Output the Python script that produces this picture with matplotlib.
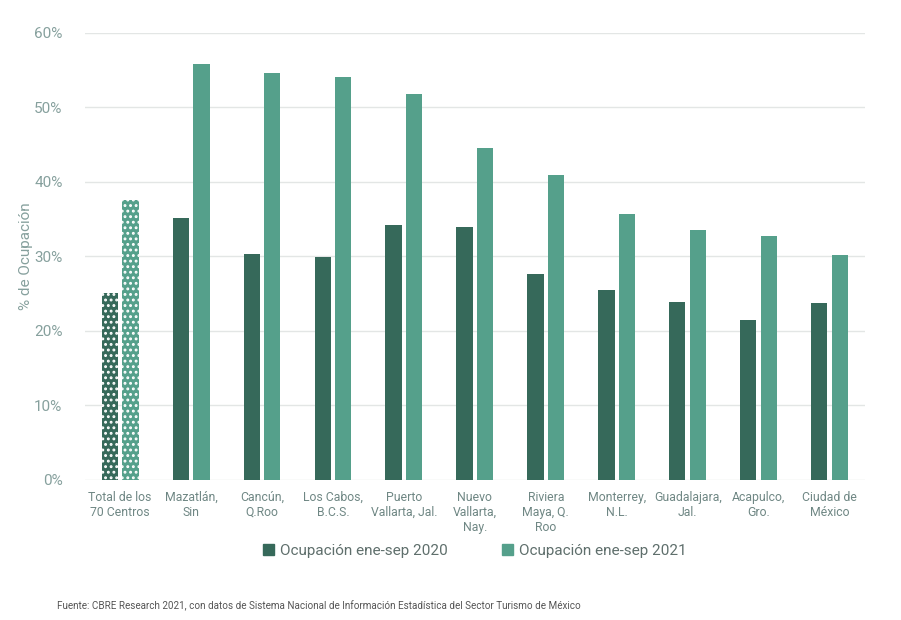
import matplotlib.pyplot as plt
import numpy as np
from matplotlib.ticker import PercentFormatter

plt.rcParams['font.family'] = ['Roboto', 'DejaVu Sans']
plt.rcParams['hatch.linewidth'] = 1.3

categorias = ['Total de los\n70 Centros', 'Mazatlán,\nSin', 'Cancún,\nQ.Roo',
              'Los Cabos,\nB.C.S.', 'Puerto\nVallarta, Jal.', 'Nuevo\nVallarta,\nNay.',
              'Riviera\nMaya, Q.\nRoo', 'Monterrey,\nN.L.', 'Guadalajara,\nJal.',
              'Acapulco,\nGro.', 'Ciudad de\nMéxico']
ocup_2020 = [25.1, 35.2, 30.3, 29.9, 34.2, 34.0, 27.7, 25.5, 23.9, 21.5, 23.8]
ocup_2021 = [37.6, 55.8, 54.6, 54.1, 51.8, 44.6, 40.9, 35.7, 33.6, 32.8, 30.2]

c_2020 = '#36695a'
c_2021 = '#55a08b'
gris = '#86a09d'

fig = plt.figure(figsize=(9.01, 6.2), dpi=100)
ax = fig.add_axes([0.094, 0.226, 0.866, 0.721])

x = np.arange(len(categorias))
w = 0.23
b1 = ax.bar(x - w / 2 - 0.03, ocup_2020, w, color=c_2020, zorder=3)
b2 = ax.bar(x + w / 2 + 0.03, ocup_2021, w, color=c_2021, zorder=3)

# el total lleva trama de puntos
for b in (b1[0], b2[0]):
    b.set_hatch('...')
    b.set_edgecolor('white')
    b.set_linewidth(0)

ax.set_xlim(-0.5, len(categorias) - 0.5)
ax.set_ylim(0, 60)
ax.set_yticks(range(0, 61, 10))
ax.yaxis.set_major_formatter(PercentFormatter(decimals=0))
ax.grid(axis='y', color='#e3e6e5', linewidth=1, zorder=0)
for s in ax.spines.values():
    s.set_visible(False)
ax.tick_params(axis='both', length=0, colors=gris)
ax.tick_params(axis='y', labelsize=11, pad=16)
ax.set_xticks(x)
ax.set_xticklabels(categorias, fontsize=8.8, linespacing=1.2, color='#6f8784')
ax.tick_params(axis='x', pad=8)
ax.set_ylabel('% de Ocupación', color=gris, fontsize=11, labelpad=1)

leg = ax.legend(handles=[plt.Rectangle((0, 0), 1, 1, color=c_2020),
                         plt.Rectangle((0, 0), 1, 1, color=c_2021)],
                labels=['Ocupación ene-sep 2020', 'Ocupación ene-sep 2021'],
                loc='center', bbox_to_anchor=(0.5, -0.158), ncol=2, frameon=False,
                fontsize=11, handlelength=0.7, handleheight=0.7, handletextpad=0.4,
                columnspacing=3.6)
for t in leg.get_texts():
    t.set_color('#5f6f6c')

fig.text(0.063, 0.018, 'Fuente: CBRE Research 2021, con datos de Sistema Nacional de Información '
         'Estadística del Sector Turismo de México', fontsize=7.1, color='#555555')

fig.savefig('out.png', dpi=100)
